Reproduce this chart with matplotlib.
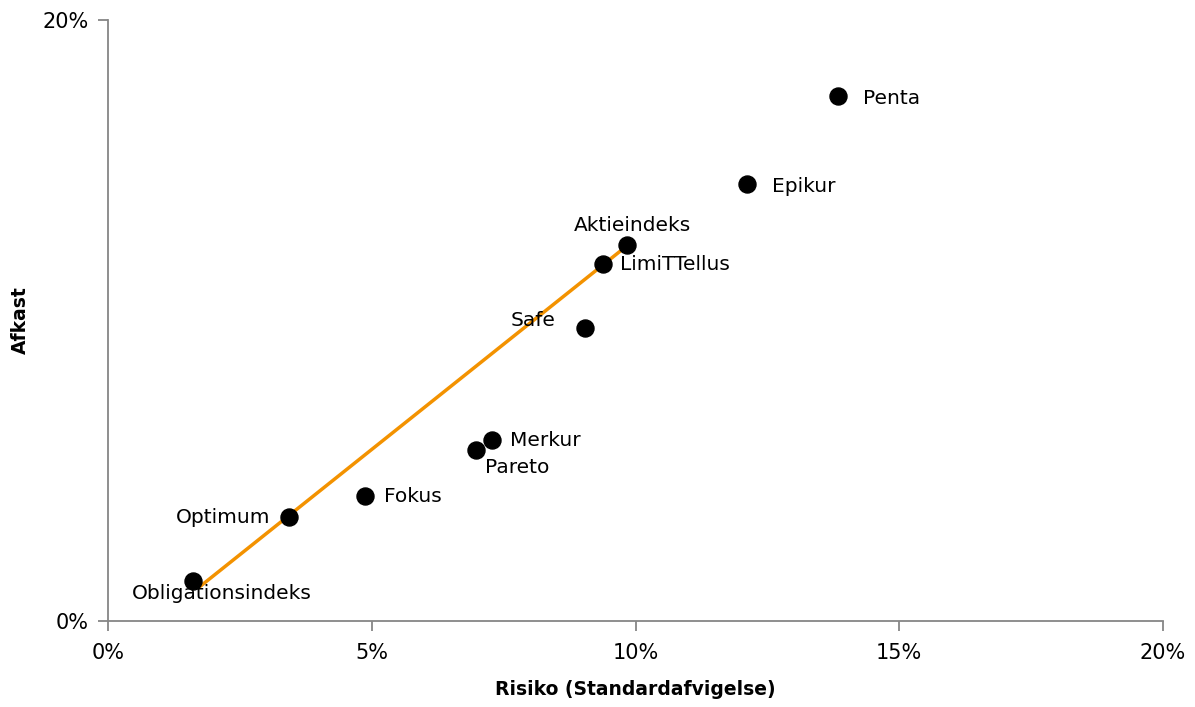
import matplotlib.pyplot as plt
from matplotlib.ticker import FuncFormatter

# funds: risk (std dev, %) and return (%)
names = ['Penta', 'Epikur', 'Aktieindeks', 'LimiTTellus', 'Safe',
         'Merkur', 'Pareto', 'Fokus', 'Optimum', 'Obligationsindeks']
risk = [13.84, 12.11, 9.84, 9.38, 9.04, 7.28, 6.98, 4.87, 3.43, 1.61]
afkast = [17.47, 14.54, 12.51, 11.88, 9.75, 6.02, 5.69, 4.16, 3.46, 1.33]

# line between the two indices
line_x = [1.73, 9.74]
line_y = [1.13, 12.35]

# label offsets in pixels (dx, dy, ha)
offsets = {
    'Penta': (25, -2, 'left'),
    'Epikur': (25, -2, 'left'),
    'Aktieindeks': (5, 20, 'center'),
    'LimiTTellus': (17, 0, 'left'),
    'Safe': (-29, 8, 'right'),
    'Merkur': (18, 0, 'left'),
    'Pareto': (9, -17, 'left'),
    'Fokus': (19, 0, 'left'),
    'Optimum': (-19, 0, 'right'),
    'Obligationsindeks': (29, -12, 'center'),
}

plt.rcParams['font.family'] = 'DejaVu Sans'
fig = plt.figure(figsize=(11.95, 7.07), dpi=100)
ax = fig.add_axes([0.0904, 0.1216, 0.8828, 0.8501])

ax.plot(line_x, line_y, color='#F39200', lw=2.5, zorder=2)
ax.scatter(risk, afkast, s=150, color='black', zorder=3)

for n, x, y in zip(names, risk, afkast):
    dx, dy, ha = offsets[n]
    ax.annotate(n, (x, y), xytext=(dx, dy), textcoords='offset pixels',
                ha=ha, va='center', fontsize=14.5, color='black')

ax.set_xlim(0, 20)
ax.set_ylim(0, 20)
ax.set_xticks([0, 5, 10, 15, 20])
ax.set_yticks([0, 20])
pct = FuncFormatter(lambda v, p: f'{v:.0f}%')
ax.xaxis.set_major_formatter(pct)
ax.yaxis.set_major_formatter(pct)

for s in ['top', 'right']:
    ax.spines[s].set_visible(False)
for s in ['left', 'bottom']:
    ax.spines[s].set_color('#868686')
    ax.spines[s].set_linewidth(1.3)
ax.tick_params(colors='#868686', labelcolor='black', labelsize=15,
               length=7, width=1.3, direction='out')
ax.tick_params(axis='x', pad=9)
ax.tick_params(axis='y', pad=7)

ax.set_xlabel('Risiko (Standardafvigelse)', fontsize=13.5, fontweight='bold', labelpad=12)
ax.set_ylabel('Afkast', fontsize=13.5, fontweight='bold', labelpad=0)
ax.yaxis.set_label_coords(-0.074, 0.5)

fig.savefig('out.png', dpi=100)
